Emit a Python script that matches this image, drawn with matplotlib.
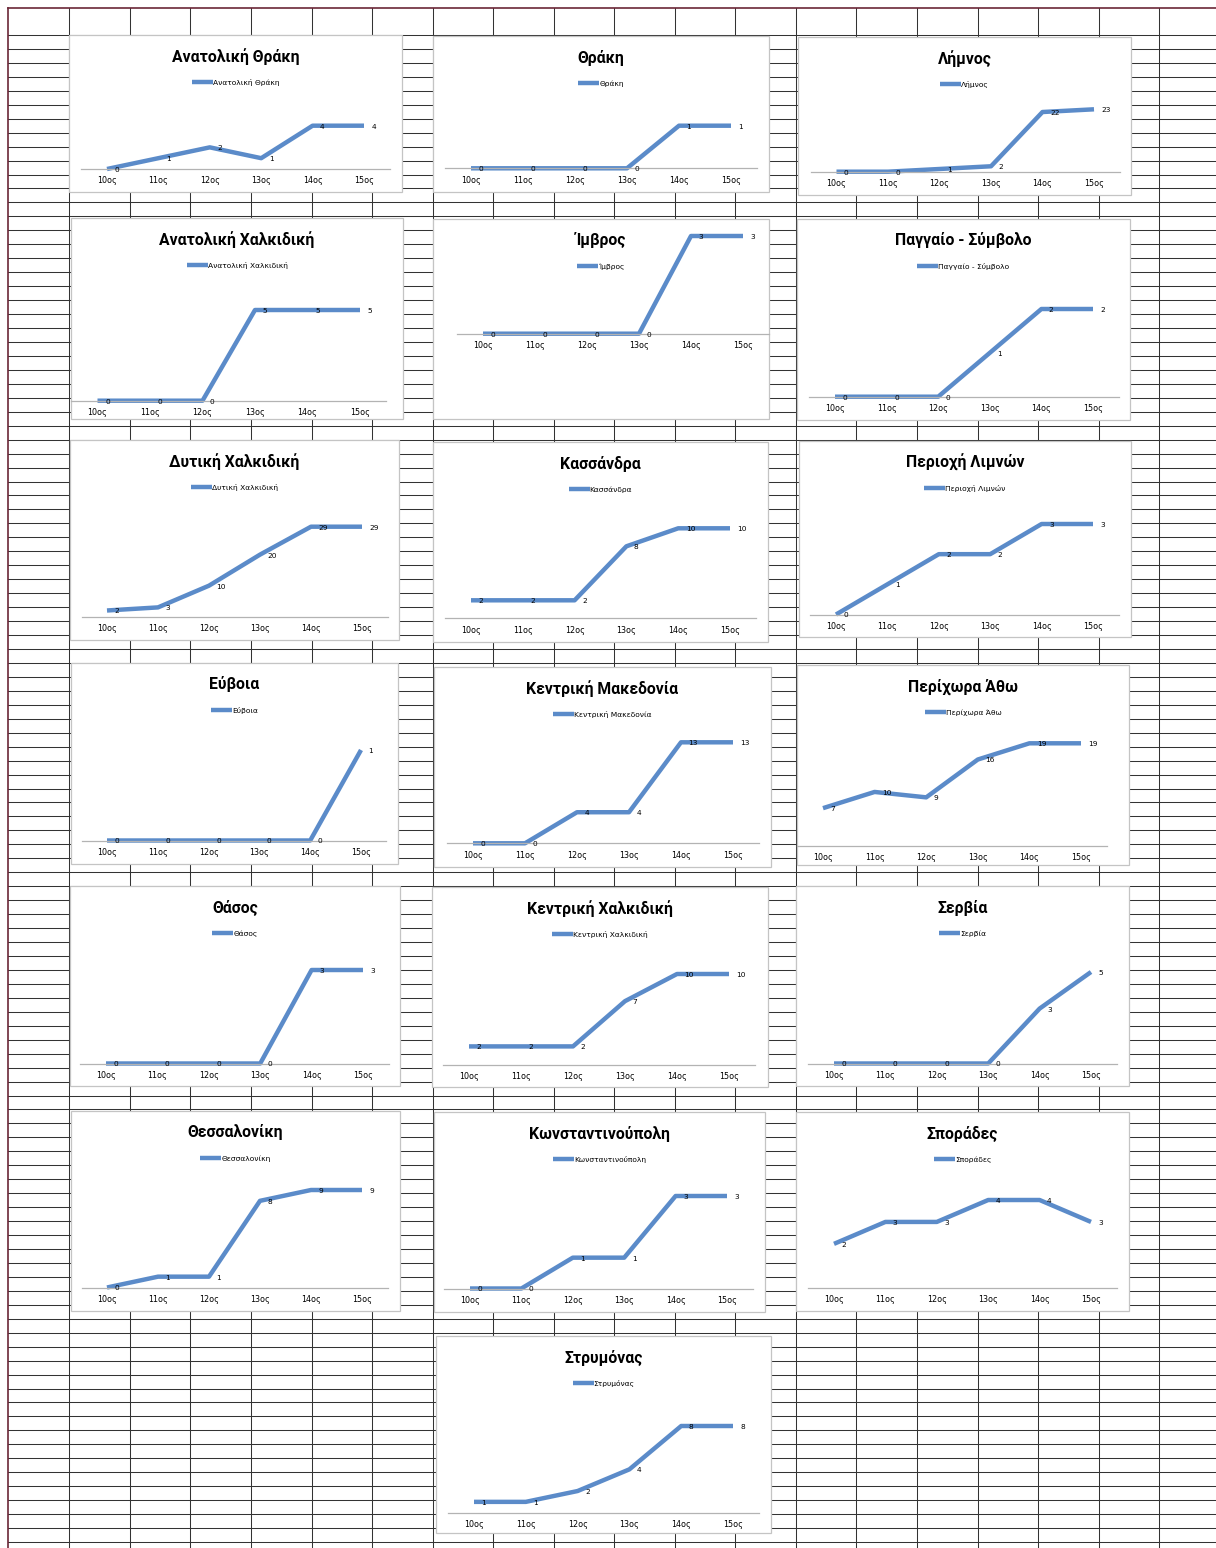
import matplotlib
matplotlib.use('Agg')
import matplotlib.pyplot as plt
from matplotlib.patches import Rectangle
from matplotlib.lines import Line2D

W, H = 1216, 1548

centuries = ['10ος', '11ος', '12ος', '13ος', '14ος', '15ος']

titles = ['Ανατολική Θράκη', 'Θράκη', 'Λήμνος',
          'Ανατολική Χαλκιδική', 'Ίμβρος', 'Παγγαίο - Σύμβολο',
          'Δυτική Χαλκιδική', 'Κασσάνδρα', 'Περιοχή Λιμνών',
          'Εύβοια', 'Κεντρική Μακεδονία', 'Περίχωρα Άθω',
          'Θάσος', 'Κεντρική Χαλκιδική', 'Σερβία',
          'Θεσσαλονίκη', 'Κωνσταντινούπολη', 'Σποράδες',
          'Στρυμόνας']

anat_thraki = [0, 1, 2, 1, 4, 4]
thraki = [0, 0, 0, 0, 1, 1]
limnos = [0, 0, 1, 2, 22, 23]
anat_chalkidiki = [0, 0, 0, 5, 5, 5]
imvros = [0, 0, 0, 0, 3, 3]
paggaio = [0, 0, 0, 1, 2, 2]
dyt_chalkidiki = [2, 3, 10, 20, 29, 29]
kassandra = [2, 2, 2, 8, 10, 10]
limnes = [0, 1, 2, 2, 3, 3]
evia = [0, 0, 0, 0, 0, 1]
kentr_makedonia = [0, 0, 4, 4, 13, 13]
athos = [7, 10, 9, 16, 19, 19]
thasos = [0, 0, 0, 0, 3, 3]
kentr_chalkidiki = [2, 2, 2, 7, 10, 10]
servia = [0, 0, 0, 0, 3, 5]
thessaloniki = [0, 1, 1, 8, 9, 9]
konstantinoupoli = [0, 0, 1, 1, 3, 3]
sporades = [2, 3, 3, 4, 4, 3]
strymonas = [1, 1, 2, 4, 8, 8]

series = [anat_thraki, thraki, limnos,
          anat_chalkidiki, imvros, paggaio,
          dyt_chalkidiki, kassandra, limnes,
          evia, kentr_makedonia, athos,
          thasos, kentr_chalkidiki, servia,
          thessaloniki, konstantinoupoli, sporades,
          strymonas]

# pixel layout of each chart object on the sheet:
# box x0, y0, x1, y1, first category x, last category x, baseline y, y of the top value
layout = [
    (69, 35, 402, 192, 107, 364, 169, 125.7),
    (433, 36, 769, 192, 471, 731, 168.3, 125.7),
    (798, 37, 1131, 195, 836.5, 1094, 171.7, 109.3),
    (71, 218, 403, 419, 97.5, 360, 400.7, 310),
    (433, 219, 769, 419, 483, 743, 333.7, 236),
    (797, 219, 1130, 420, 835, 1093, 396.7, 309),
    (70, 440, 399, 640, 107, 362, 616.7, 526.7),
    (433, 442, 768, 642, 471, 730, 618.3, 528.3),
    (799, 441, 1131, 637, 836, 1093, 614.5, 524),
    (71, 663, 398, 864, 107, 361, 840.5, 750),
    (434, 667, 771, 867, 473, 733, 843.3, 742.3),
    (797, 665, 1129, 865, 823, 1081, 846, 743.3),
    (70, 886, 400, 1086, 106, 363, 1063.5, 970),
    (432, 887, 768, 1087, 469, 729, 1064.5, 974),
    (796, 886, 1129, 1086, 834, 1091, 1063.5, 972),
    (71, 1111, 400, 1311, 107, 362, 1287.5, 1190),
    (434, 1112, 765, 1312, 470, 727, 1288.5, 1196),
    (796, 1112, 1129, 1311, 834, 1091, 1287.7, 1200),
    (436, 1336, 771, 1533, 474, 733, 1512.7, 1426),
]

line_color = '#5B8BC9'

fig = plt.figure(figsize=(W / 100, H / 100), dpi=100)
fig.patch.set_facecolor('white')

# spreadsheet background
bg = fig.add_axes([0, 0, 1, 1])
bg.set_xlim(0, W)
bg.set_ylim(H, 0)
bg.axis('off')

grid_c = '#333333'
for k in range(109):
    y = 35 + 13.954 * k
    bg.plot([8, W], [y, y], color=grid_c, lw=0.75, zorder=1)
for k in range(19):
    x = 69.3 + 60.55 * k
    bg.plot([x, x], [7.5, H], color=grid_c, lw=0.75, zorder=1)
bg.plot([7.5, 7.5], [7.5, H], color='#6b2737', lw=1.2, zorder=1)
bg.plot([7.5, W], [7.5, 7.5], color='#6b2737', lw=1.2, zorder=1)

for name, vals, (x0, y0, x1, y1, first, last, base, top) in zip(titles, series, layout):
    bg.add_patch(Rectangle((x0, y0), x1 - x0, y1 - y0, facecolor='white',
                           edgecolor='#c4c4c4', lw=0.9, zorder=2))
    cx = (x0 + x1) / 2
    bg.text(cx, y0 + 21.5, name, ha='center', va='center', fontsize=11.3,
            fontweight='bold', family=['Roboto', 'DejaVu Sans'], color='black', zorder=3)

    w = (last - first) / 5
    left = first - w / 2
    right = last + w / 2
    ax = fig.add_axes([left / W, 1 - base / H, (right - left) / W, (base - top) / H])
    ax.patch.set_visible(False)
    ax.set_xlim(-0.5, 5.5)
    ax.set_ylim(0, max(vals))
    ln, = ax.plot(range(len(vals)), vals, color=line_color, lw=3.2,
                  solid_joinstyle='round', solid_capstyle='butt', clip_on=False,
                  label=name)
    for i, v in enumerate(vals):
        ax.annotate(str(v), (i, v), xytext=(5.4, -0.7), textcoords='offset points',
                    ha='left', va='center', fontsize=5.3, annotation_clip=False)
    for s in ['top', 'left', 'right']:
        ax.spines[s].set_visible(False)
    ax.spines['bottom'].set_color('#b3b3b3')
    ax.spines['bottom'].set_linewidth(0.9)
    ax.set_yticks([])
    ax.set_xticks(range(6), centuries)
    ax.tick_params(axis='x', length=0, pad=5.2, labelsize=5.8)

    handle = Line2D([], [], color=line_color, lw=3.2, solid_capstyle='butt')
    ax.legend(handles=[handle], labels=[name], loc='center',
              bbox_to_anchor=(cx, y0 + 47.5), bbox_transform=bg.transData,
              frameon=False, fontsize=5.4, handlelength=2.8, handletextpad=0.0,
              borderpad=0, borderaxespad=0)

fig.savefig('out.png', dpi=100, facecolor='white')
